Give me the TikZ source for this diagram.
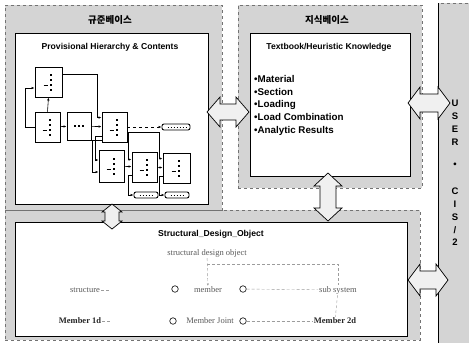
\documentclass[tikz,border=0pt]{standalone}
\usepackage{fontspec}
\setmainfont{Liberation Sans}
\newfontfamily\korfont{Noto Sans CJK KR}
\newfontfamily\treefont{Liberation Serif}
\usetikzlibrary{arrows.meta,positioning,calc}
\definecolor{Stipple}{HTML}{D4D4D4}
\definecolor{Faint}{HTML}{5A5A5A}
\tikzset{
  frame/.style={draw=black!55, dashed, fill=Stipple, anchor=north west, inner sep=0pt},
  innerbox/.style={draw=black, line width=0.8pt, fill=white, anchor=north west, inner sep=0pt},
  blockarr/.style={draw=black, line width=0.7pt, fill=gray!12, line join=miter},
  kortitle/.style={font=\korfont\bfseries\fontsize{9.5}{10}\selectfont},
  boxtitle/.style={font=\bfseries\fontsize{8.6}{10}\selectfont},
}
% block arrows: x1, x2, y, head half, shaft half, head length
\newcommand{\blockarrowh}[6]{%
  \filldraw[blockarr] (#1,#3) -- (#1+#6,#3-#4) -- (#1+#6,#3-#5) -- (#2-#6,#3-#5)
    -- (#2-#6,#3-#4) -- (#2,#3) -- (#2-#6,#3+#4) -- (#2-#6,#3+#5)
    -- (#1+#6,#3+#5) -- (#1+#6,#3+#4) -- cycle;}
% y1, y2, x, head half, shaft half, head length
\newcommand{\blockarrowv}[6]{%
  \filldraw[blockarr] (#3,#1) -- (#3-#4,#1+#6) -- (#3-#5,#1+#6) -- (#3-#5,#2-#6)
    -- (#3-#4,#2-#6) -- (#3,#2) -- (#3+#4,#2-#6) -- (#3+#5,#2-#6)
    -- (#3+#5,#1+#6) -- (#3+#4,#1+#6) -- cycle;}

\begin{document}
\begin{tikzpicture}[x=1pt, y=-1pt,
  hbox/.style={draw=black, line width=0.9pt, fill=white, minimum width=25pt,
    minimum height=30pt, inner sep=0pt},
  tag/.style={draw=black, line width=0.9pt, fill=white, rounded corners=2pt,
    minimum width=24pt, minimum height=6pt, inner sep=0pt},
  hlink/.style={line width=0.6pt, -{Latex[length=3pt,width=2.5pt]}},
  treetxt/.style={font=\treefont\fontsize{8.5}{9}\selectfont, text=Faint, inner sep=1pt},
  treebold/.style={treetxt, font=\treefont\bfseries\fontsize{8.5}{9}\selectfont, text=black!85},
  treelink/.style={draw=Faint!60, densely dashed, line width=0.4pt},
  ocirc/.style={circle, draw=black!85, line width=0.7pt, minimum size=6.5pt, inner sep=0pt},
]
  \useasboundingbox (0,0) rectangle (469,343);

  % frames
  \node[frame, minimum width=415pt, minimum height=130pt] (sdobase) at (5,210) {};
  \node[frame, minimum width=217pt, minimum height=205pt] (codebase) at (5,5) {};
  \node[frame, minimum width=184pt, minimum height=183pt] (knowbase) at (238,5) {};
  \node[frame, minimum width=31pt, minimum height=340pt] (userstrip) at (438,3) {};
  \draw[line width=0.7pt] (userstrip.north west) -- (userstrip.south west);

  \node[innerbox, minimum width=193pt, minimum height=171pt] (codein) at (15,33) {};
  \node[innerbox, minimum width=160pt, minimum height=143pt] (knowin) at (250,33) {};
  \node[innerbox, minimum width=392pt, minimum height=114pt] (sdoin) at (15,222) {};

  % arrows between the parts
  \blockarrowh{207}{249}{112}{15}{8}{13}
  \blockarrowh{408}{450}{103}{16}{9}{12}
  \blockarrowh{408}{448}{280}{16}{9}{12}
  \blockarrowv{173}{221}{328}{14}{8}{13}
  \blockarrowv{204}{229}{112}{10}{7}{8}

  % titles
  \node[kortitle] at (110,20) {규준베이스};
  \node[kortitle] at (327,20) {지식베이스};
  \node[boxtitle] at (110,47) {Provisional Hierarchy \& Contents};
  \node[boxtitle] at (329,47) {Textbook/Heuristic Knowledge};
  \node[boxtitle] at (211,234) {Structural\_Design\_Object};

  \node[font=\bfseries\fontsize{9.8}{12.8}\selectfont, align=left, anchor=north west,
    inner sep=0pt] (klist) at (254,75)
    {\textbullet Material\\ \textbullet Section\\ \textbullet Loading\\
     \textbullet Load Combination\\ \textbullet Analytic Results};

  \node[font=\bfseries\fontsize{9.5}{12.8}\selectfont, align=center, anchor=north,
    inner sep=0pt] (userlbl) at (455,100)
    {U\\S\\E\\R\\[10pt]\textbullet\\[14pt]C\\I\\S\\/\\2};

  % provisional hierarchy
  \node[hbox, minimum width=27pt] (A) at (48.5,82) {};
  \node[hbox] (B) at (47.5,127) {};
  \node[hbox, minimum width=24pt, minimum height=28pt] (C) at (79,126) {};
  \node[hbox] (D) at (114.5,127) {};
  \node[hbox, minimum height=32pt] (E) at (111.5,166) {};
  \node[hbox] (F) at (144.5,167) {};
  \node[hbox, minimum width=27pt] (G) at (176.5,168) {};
  \node[tag, minimum width=28pt] (t1) at (176,127) {};
  \node[tag] (t2) at (146,195) {};
  \node[tag] (t3) at (177,195) {};

  \foreach \b in {A,B,D,E,F,G}{
    \fill ($(\b.center)+(1,-8)$) rectangle ++(2,2);
    \fill ($(\b.center)+(1,-3)$) rectangle ++(2,2);
    \draw[line width=0.5pt] ($(\b.center)+(-5,3)$) -- ++(4,0);
    \fill ($(\b.center)+(1,2)$) rectangle ++(2,2);
    \fill ($(\b.center)+(1,7)$) rectangle ++(2,2);
  }
  \foreach \dx in {-4,0,4}
    \fill ($(C.center)+(\dx-0.8,-0.8)$) rectangle ++(1.6,1.6);
  \foreach \t in {t1,t2,t3}
    \draw[line width=1pt, dotted] ($(\t.west)+(6,0)$) -- ($(\t.east)+(-4,0)$);

  \draw[hlink] (B.north) -- (A.south);
  \draw[hlink] (B.west) -- ++(-9,0) |- ($(A.west)+(0,6)$);
  \draw[hlink] ($(A.north east)+(0,8)$) -| ($(D.north west)+(-4,6)$) -- ($(D.north west)+(0,6)$);
  \draw[hlink] (B) -- (C);
  \draw[hlink] (C) -- (D);
  \draw[hlink, dashed] (D) -- (t1);
  \draw[hlink] ($(D.south west)+(0,-6)$) -- ++(-6,0) |- ($(E.west)+(0,-6)$);
  \draw[hlink] ($(D.south west)+(0,-2)$) -- ++(-9,0) |- ($(E.west)+(0,6)$);
  \draw[hlink] ($(D.south east)+(0,-10)$) -| ($(F.north west)+(-3,8)$) -- ++(3,0);
  \draw[hlink] ($(D.south east)+(0,-10)$) -| ($(G.north west)+(-3,6)$) -- ++(3,0);
  \draw[hlink] (E) -- (F);
  \draw[hlink] (F) -- (G);
  \draw[hlink] ($(F.west)+(0,8)$) -- ++(-3,0) |- (t2.west);
  \draw[hlink] ($(G.west)+(0,8)$) -- ++(-3,0) |- (t3.west);

  % design object tree
  \node[treetxt] (sdo) at (207,253) {structural design object};
  \node[treetxt] (struct) at (85,290) {structure};
  \node[treetxt] (member) at (208,290) {member};
  \node[treetxt] (subsys) at (338,290) {sub system};
  \node[treebold] (m1d) at (80,321) {Member 1d};
  \node[treetxt] (mjoint) at (210,321) {Member Joint};
  \node[treebold] (m2d) at (335,321) {Member 2d};
  \node[ocirc] (o1) at (175,289) {};
  \node[ocirc] (o2) at (243,289) {};
  \node[ocirc] (o3) at (173,321) {};
  \node[ocirc] (o4) at (243,321) {};

  \draw[treelink, -{Stealth[length=2.5pt]}] (sdo) -- (member);
  \draw[treelink] (sdo.south) ++(0,6) -| (subsys.north);
  \draw[treelink] (struct.east) -- ++(8,0);
  \draw[treelink] (m1d.east) -- ++(8,0);
  \draw[treelink] (o2) -- (subsys);
  \draw[treelink] (o4) -- (m2d);
  \draw[treelink] (subsys) -- (m2d);
\end{tikzpicture}
\end{document}
